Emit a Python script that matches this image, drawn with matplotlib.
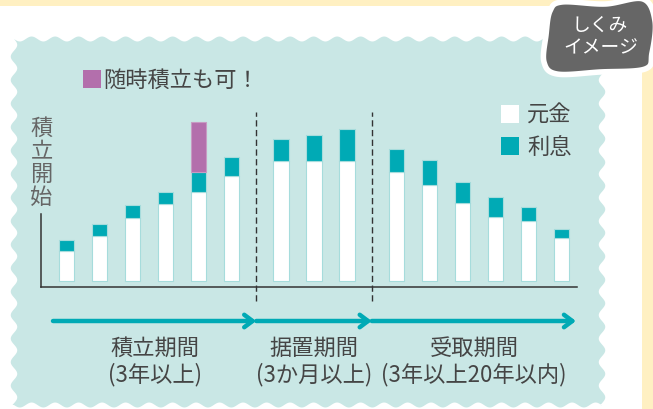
import numpy as np
import matplotlib
matplotlib.use("Agg")
import matplotlib.pyplot as plt
from matplotlib.patches import Polygon, Rectangle

plt.rcParams['font.family'] = ['Noto Sans CJK JP', 'DejaVu Sans']

# values (bar heights in px-like units)
principal = [30, 45, 63, 77, 89, 105, 120, 120, 120, 109, 96, 78, 64, 60, 43]
interest = [11, 12, 13, 12, 20, 19, 22, 26, 32, 23, 25, 21, 20, 14, 9]
extra = [0, 0, 0, 0, 50, 0, 0, 0, 0, 0, 0, 0, 0, 0, 0]
phase_sizes = [6, 3, 6]
phase_names = ['積立期間', '据置期間', '受取期間']
phase_notes = ['(3年以上)', '(3か月以上)', '(3年以上20年以内)']
legend_labels = ['元金', '利息']
extra_label = '随時積立も可！'

teal = '#00aab5'
purple = '#b36fac'
panel = '#c9e7e5'
yellow = '#fff0c2'
edge = '#a6dcdc'
txt = '#454545'
fs = 16

W, H = 653, 410
fig = plt.figure(figsize=(W / 100, H / 100), dpi=100)
fig.patch.set_facecolor(yellow)

# background drawing in pixel coords
bg = fig.add_axes([0, 0, 1, 1], zorder=0)
bg.set_xlim(0, W)
bg.set_ylim(H, 0)
bg.axis('off')
bg.add_patch(Rectangle((0, 7), 642, H, color='white', lw=0))


def wavy_rect(x0, y0, x1, y1, amp, period):
    xs = np.linspace(x0, x1, 500)
    ys = np.linspace(y0, y1, 400)
    top = np.column_stack([xs, y0 + amp * np.sin(2 * np.pi * (xs - x0) / period)])
    right = np.column_stack([x1 + 1.3 * amp * np.sin(2 * np.pi * (ys - y0) / period), ys])
    bottom = np.column_stack([xs[::-1], y1 + amp * np.sin(2 * np.pi * (xs[::-1] - x0) / period)])
    left = np.column_stack([x0 + 1.3 * amp * np.sin(2 * np.pi * (ys[::-1] - y0) / period), ys[::-1]])
    return np.vstack([top, right, bottom, left])


bg.add_patch(Polygon(wavy_rect(14, 40, 602, 406, 2.5, 23.5), closed=True, color=panel, lw=0))


def smooth_closed(pts, n=30):
    pts = np.asarray(pts, float)
    out = []
    k = len(pts)
    for i in range(k):
        p0, p1, p2, p3 = pts[i - 1], pts[i], pts[(i + 1) % k], pts[(i + 2) % k]
        t = np.linspace(0, 1, n, endpoint=False)[:, None]
        out.append(0.5 * ((2 * p1) + (-p0 + p2) * t + (2 * p0 - 5 * p1 + 4 * p2 - p3) * t ** 2
                          + (-p0 + 3 * p1 - 3 * p2 + p3) * t ** 3))
    return np.vstack(out)


blob = smooth_closed([(562, 3), (605, 5), (643, 0), (655, 22), (652, 54), (645, 70),
                      (600, 73), (557, 75), (544, 63), (546, 36), (550, 12)])
bg.add_patch(Polygon(blob, closed=True, facecolor='#666666', edgecolor='white', lw=4))
bg.text(600, 25, 'しくみ', color='white', fontsize=13.5, ha='center', va='center')
bg.text(601, 48, 'イメージ', color='white', fontsize=13.5, ha='center', va='center')

# "随時積立も可" marker
bg.add_patch(Rectangle((83, 71), 18, 18, color=purple, lw=0))
bg.text(103, 80, extra_label, color=txt, fontsize=fs, ha='left', va='center')

# legend squares
for i, (lab, col) in enumerate(zip(legend_labels, ['white', teal])):
    bg.add_patch(Rectangle((501, 106 + 32 * i), 18, 18, color=col, lw=0))
    bg.text(527, 115 + 32 * i, lab, color=txt, fontsize=fs, ha='left', va='center')

# vertical axis label
bg.text(41.5, 163, '積\n立\n開\n始', color='#666666', fontsize=fs, ha='center', va='center',
        linespacing=1.0)

# chart axes
left_px, right_px, bottom_px, top_px = 41, 577, 288, 100
ax = fig.add_axes([left_px / W, 1 - bottom_px / H, (right_px - left_px) / W, (bottom_px - top_px) / H],
                  zorder=1)
ax.patch.set_alpha(0)

gap = 0.5
x = []
pos = 0.0
bounds = []
for i, n in enumerate(phase_sizes):
    x.extend(pos + np.arange(n))
    pos += n
    bounds.append(pos - 1 + (1 + gap) / 2)
    pos += gap
x = np.array(x)
principal = np.array(principal)
interest = np.array(interest)
extra = np.array(extra)

bw = 0.48
ax.bar(x, principal, width=bw, color='white', edgecolor=edge, lw=0.8)
ax.bar(x, interest, bottom=principal, width=bw, color=teal, edgecolor=edge, lw=0.8)
m = extra > 0
ax.bar(x[m], extra[m], bottom=(principal + interest)[m], width=bw, color=purple, edgecolor='#c79bc3', lw=0.8)

x_lo = (left_px - 66.5) / 33
x_hi = (right_px - 66.5) / 33
ax.set_xlim(x_lo, x_hi)
ax.set_ylim(-6, 182)
for s in ['top', 'right']:
    ax.spines[s].set_visible(False)
for s in ['left', 'bottom']:
    ax.spines[s].set_color('#333333')
    ax.spines[s].set_linewidth(1.1)
ax.spines['left'].set_bounds(-6, 67)
ax.set_xticks([])
ax.set_yticks([])

# phase separators
for b in bounds[:-1]:
    ax.plot([b, b], [-20, 169], color='#333333', lw=1.0, dashes=(4.5, 2.5), clip_on=False)

# phase arrows and labels
starts = [(53 - 66.5) / 33] + bounds[:-1]
ends = bounds[:-1] + [(576 - 66.5) / 33]
for s, e, name, note in zip(starts, ends, phase_names, phase_notes):
    ax.annotate('', xy=(e, -40), xytext=(s, -40), annotation_clip=False,
                arrowprops=dict(arrowstyle='->,head_length=0.6,head_width=0.45', lw=3.2,
                                color=teal, shrinkA=0, shrinkB=0))
    c = (s + e) / 2
    ax.text(c, -66, name, color=txt, fontsize=fs, ha='center', va='center', clip_on=False)
    ax.text(c, -93, note, color=txt, fontsize=fs, ha='center', va='center', clip_on=False)

fig.savefig('out.png', dpi=100, facecolor=fig.get_facecolor())
